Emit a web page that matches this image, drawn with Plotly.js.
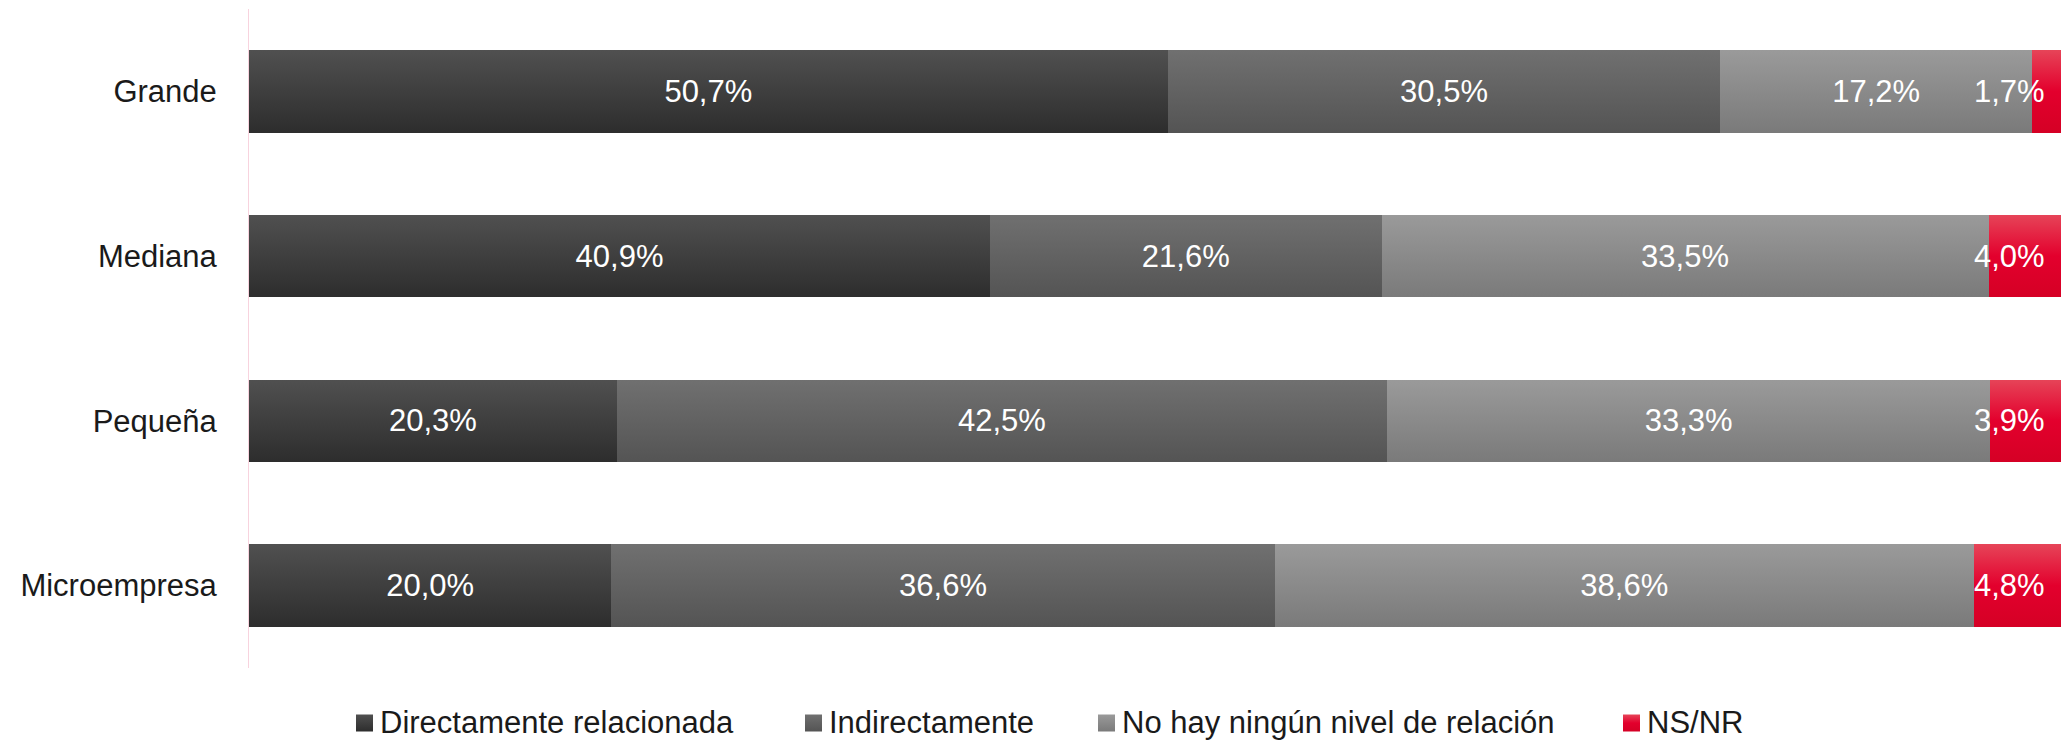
<!DOCTYPE html>
<html>
<head>
<meta charset="utf-8">
<script src="https://cdn.plot.ly/plotly-3.0.1.min.js"></script>
<style>
  html, body { margin: 0; padding: 0; background: #ffffff; }
  #chart { width: 2070px; height: 740px; }
</style>
</head>
<body>
<div id="chart"></div>
<script>
// ---- Data ----
const categories = ["Grande", "Mediana", "Pequeña", "Microempresa"];
const seriesNames = ["Directamente relacionada", "Indirectamente", "No hay ningún nivel de relación", "NS/NR"];
const directamente = [50.7, 40.9, 20.3, 20.0];
const indirectamente = [30.5, 21.6, 42.5, 36.6];
const noRelacion = [17.2, 33.5, 33.3, 38.6];
const nsnr = [1.7, 4.0, 3.9, 4.8];

// ---- Styles ----
const baseColors = ["#3c3c3c", "#606060", "#8a8a8a", "#e3002d"];
const gradStops = [
  ["#505050", "#2d2d2d"],
  ["#707070", "#545454"],
  ["#9a9a9a", "#7a7a7a"],
  ["#e64458", "#e3002d", "#d50025"]
];
const FONT = '"Liberation Sans", Arial, Helvetica, sans-serif';

// layout geometry (pixels)
const W = 2070, H = 740;
const M = { l: 249, r: 9, t: 9, b: 72 };
const plotW = W - M.l - M.r, plotH = H - M.t - M.b;
const px2x = px => (px - M.l) / plotW;
const py2y = py => (H - M.b - py) / plotH;
const legendSquareLeft = [356, 805, 1098, 1623];
const legendSquare = 17, legendTextGap = 7, legendCenterY = 723;

const values = [directamente, indirectamente, noRelacion, nsnr];
const traces = values.map((v, i) => ({
  type: "bar",
  orientation: "h",
  name: seriesNames[i],
  y: categories,
  x: v,
  marker: { color: baseColors[i], line: { width: 0 } },
  texttemplate: i === 3 ? "" : "%{x:.1f}%",
  textposition: i === 3 ? "none" : "inside",
  insidetextanchor: "middle",
  constraintext: "none",
  textangle: 0,
  insidetextfont: { family: FONT, size: 31, color: "#ffffff" },
  hoverinfo: "skip",
  showlegend: false
}));

// NS/NR labels, right-aligned at the end of each stacked bar
const fmt = v => v.toFixed(1).replace(".", ",") + "%";
const annotations = categories.map((c, k) => ({
  x: Math.min(directamente[k] + indirectamente[k] + noRelacion[k] + nsnr[k], 100),
  y: c, xref: "x", yref: "y",
  text: fmt(nsnr[k]),
  showarrow: false, xanchor: "right", yanchor: "middle", xshift: -14,
  font: { family: FONT, size: 31, color: "#ffffff" }
}));

// custom legend (squares + text)
const shapes = [];
seriesNames.forEach((n, i) => {
  const x0 = legendSquareLeft[i];
  shapes.push({
    type: "rect", xref: "paper", yref: "paper",
    x0: px2x(x0), x1: px2x(x0 + legendSquare),
    y0: py2y(legendCenterY + legendSquare / 2), y1: py2y(legendCenterY - legendSquare / 2),
    fillcolor: baseColors[i], line: { width: 0 }, layer: "above"
  });
  annotations.push({
    x: px2x(x0 + legendSquare + legendTextGap - 2), y: py2y(legendCenterY),
    xref: "paper", yref: "paper",
    text: n, showarrow: false, xanchor: "left", yanchor: "middle",
    font: { family: FONT, size: 31, color: "#1a1a1a" }
  });
});

const layout = {
  width: W,
  height: H,
  barmode: "stack",
  bargap: 0.5,
  separators: ",.",
  paper_bgcolor: "#ffffff",
  plot_bgcolor: "#ffffff",
  margin: { l: M.l, r: M.r, t: M.t, b: M.b, pad: 0 },
  font: { family: FONT, size: 31, color: "#1a1a1a" },
  showlegend: false,
  xaxis: {
    range: [0, 100],
    showgrid: false,
    zeroline: false,
    showline: false,
    showticklabels: false,
    ticks: "",
    fixedrange: true
  },
  yaxis: {
    type: "category",
    categoryorder: "array",
    categoryarray: categories,
    autorange: "reversed",
    showgrid: false,
    zeroline: false,
    showline: true,
    linecolor: "#f8d3de",
    linewidth: 1,
    ticks: "",
    ticklabelstandoff: 25,
    tickfont: { family: FONT, size: 31, color: "#1a1a1a" },
    fixedrange: true
  },
  shapes: shapes,
  annotations: annotations
};

Plotly.newPlot("chart", traces, layout, { displayModeBar: false, staticPlot: true }).then(gd => {
  const svg = gd.querySelector("svg.main-svg");
  const NS = "http://www.w3.org/2000/svg";
  let defs = svg.querySelector("defs");
  if (!defs) { defs = document.createElementNS(NS, "defs"); svg.insertBefore(defs, svg.firstChild); }
  gradStops.forEach((stops, i) => {
    const g = document.createElementNS(NS, "linearGradient");
    g.setAttribute("id", "bargrad" + i);
    g.setAttribute("x1", "0"); g.setAttribute("y1", "0");
    g.setAttribute("x2", "0"); g.setAttribute("y2", "1");
    stops.forEach((c, k) => {
      const s = document.createElementNS(NS, "stop");
      s.setAttribute("offset", (k / (stops.length - 1) * 100) + "%");
      s.setAttribute("stop-color", c);
      g.appendChild(s);
    });
    defs.appendChild(g);
  });
  gd.querySelectorAll(".barlayer .trace").forEach((tr, i) => {
    tr.querySelectorAll(".point path").forEach(p => { p.style.fill = "url(#bargrad" + i + ")"; });
  });
  gd.querySelectorAll(".shapelayer path").forEach(p => {
    const idx = parseInt(p.getAttribute("data-index"), 10);
    if (!isNaN(idx)) p.style.fill = "url(#bargrad" + idx + ")";
  });
});
</script>
</body>
</html>
